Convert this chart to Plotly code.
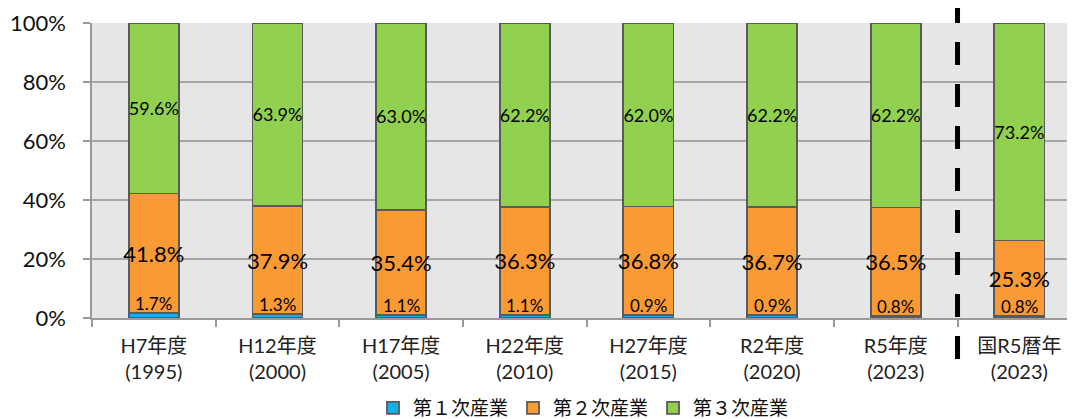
import plotly.graph_objects as go

categories = ["H7年度<br>(1995)", "H12年度<br>(2000)", "H17年度<br>(2005)", "H22年度<br>(2010)",
              "H27年度<br>(2015)", "R2年度<br>(2020)", "R5年度<br>(2023)", "国R5暦年<br>(2023)"]
primary = [1.7, 1.3, 1.1, 1.1, 0.9, 0.9, 0.8, 0.8]
secondary = [41.8, 37.9, 35.4, 36.3, 36.8, 36.7, 36.5, 25.3]
tertiary = [59.6, 63.9, 63.0, 62.2, 62.0, 62.2, 62.2, 73.2]
series_names = ["第１次産業", "第２次産業", "第３次産業"]
y_ticks = [0, 20, 40, 60, 80, 100]

colors = ["#14b0e8", "#fa9a35", "#92d050"]
outline = "#5a5a5a"
num_font = "Lato, Noto Sans CJK JP"
cjk_font = "Noto Sans CJK JP, Lato"

fig = go.Figure()
label_sizes = [None, 22, 18]
for i, (name, vals) in enumerate(zip(series_names, [primary, secondary, tertiary])):
    kw = {}
    if i == 0:
        kw = dict(textposition="none")
    else:
        kw = dict(text=[f"{v:.1f}%" for v in vals], textposition="inside",
                  insidetextanchor="middle", constraintext="none", textangle=0,
                  textfont=dict(family=num_font, size=label_sizes[i], color="black"))
    fig.add_trace(go.Bar(
        x=categories, y=vals, name=name, width=0.405,
        marker=dict(color=colors[i], line=dict(color=outline, width=1.8)),
        **kw))

# labels of primary sector, sitting just above the thin blue segment
for c, p, s, t in zip(categories, primary, secondary, tertiary):
    share = p / (p + s + t) * 100
    fig.add_annotation(x=c, y=share, text=f"{p:.1f}%", showarrow=False,
                       yanchor="bottom", yshift=-3,
                       font=dict(family=num_font, size=17, color="black"))

# separator between municipal and national data
fig.add_shape(type="line", xref="x", yref="paper", x0=6.5, x1=6.5, y0=1.078, y1=-0.142,
              line=dict(color="black", width=5, dash="23px,19px"), layer="above")

# the page body has an 8px default margin, so the figure is shrunk accordingly
fig.update_layout(
    width=1067, height=411,
    margin=dict(l=84, r=0, t=15, b=101, autoexpand=False),
    barmode="stack", barnorm="percent",
    plot_bgcolor="#e6e6e6", paper_bgcolor="white",
    font=dict(family=cjk_font, color="#222222"),
    showlegend=True,
    legend=dict(orientation="h", x=0.5, xanchor="center", y=-0.305, yanchor="middle",
                font=dict(family=cjk_font, size=19, color="#111111"),
                traceorder="normal", itemwidth=30, bgcolor="rgba(0,0,0,0)"),
)
fig.update_xaxes(range=[-0.5, 7.45], showgrid=False, tickson="boundaries",
                 ticks="outside", ticklen=7, tickcolor="#9a9a9a", tickwidth=1.5,
                 showline=True, linecolor="#9a9a9a", linewidth=1.5, automargin=False,
                 ticklabelstandoff=9,
                 tickfont=dict(family=num_font, size=20, color="#222222"))
fig.update_yaxes(range=[0, 100], tickvals=y_ticks, ticktext=[f"{v}%" for v in y_ticks],
                 showgrid=True, gridcolor="#a6a6a6", gridwidth=1.5,
                 ticks="outside", ticklen=7, tickcolor="#9a9a9a", tickwidth=1.5,
                 showline=True, linecolor="#9a9a9a", linewidth=1.5,
                 zeroline=False, automargin=False, ticklabelstandoff=13,
                 tickfont=dict(family=num_font, size=22, color="#111111"))

fig.write_html("out.html")
